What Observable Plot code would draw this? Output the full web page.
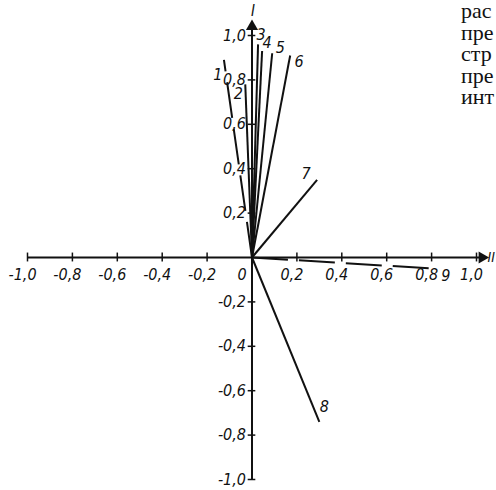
<!DOCTYPE html>
<html>
<head>
<meta charset="utf-8">
<script src="https://cdn.jsdelivr.net/npm/d3@7"></script>
<script src="https://cdn.jsdelivr.net/npm/@observablehq/plot@0.6"></script>
<style>
  html, body { margin: 0; padding: 0; background: #fff; overflow: hidden; width: 496px; height: 490px; }
  #wrap { position: relative; width: 496px; height: 490px; }
  #side { position: absolute; left: 461px; top: 0px; font-family: "Liberation Serif", "DejaVu Serif", serif; font-size: 22px; line-height: 21.5px; color: #111; white-space: pre; }
  svg text { font-family: "DejaVu Sans Condensed", "Liberation Sans Narrow", "DejaVu Sans", sans-serif; font-stretch: condensed; font-style: italic; }
</style>
</head>
<body>
<div id="wrap"><div id="side"></div></div>
<script>
// Vector data (axis I = vertical, axis II = horizontal)
const vectorIds = ["1", "2", "3", "4", "5", "6", "7", "8", "9"];
const vectorX = [-0.125, -0.03, 0.027, 0.045, 0.09, 0.17, 0.29, 0.30, 0.81];
const vectorY = [0.89, 0.78, 0.96, 0.93, 0.92, 0.91, 0.35, -0.74, -0.05];
const vectorDashed = [true, false, false, false, false, false, false, false, true];

// Tick values and labels
const xTicks = [-1.0, -0.8, -0.6, -0.4, -0.2, 0.2, 0.4, 0.6, 0.8, 1.0];
const xTickLabels = ["-1,0", "-0,8", "-0,6", "-0,4", "-0,2", "0,2", "0,4", "0,6", "0,8", "1,0"];
const yTicks = [1.0, 0.8, 0.6, 0.4, 0.2, -0.2, -0.4, -0.6, -0.8, -1.0];
const yTickLabels = ["1,0", "0,8", "0,6", "0,4", "0,2", "-0,2", "-0,4", "-0,6", "-0,8", "-1,0"];
const originLabel = ["0"];
const axisNames = ["I", "II"];

// Cropped book text on the right
const sideText = ["рас", "пре", "стр", "пре", "инт"];

// label offsets (px) for vector numbers
const labelDx = [-6, -7, 3, 5, 8, 9, -11, 5, 12];
const labelDy = [15, 10, -10, -8, -5, 6, -6, -15, 7];

const vectors = vectorIds.map((id, i) => ({id, x: vectorX[i], y: vectorY[i], dashed: vectorDashed[i], dx: labelDx[i], dy: labelDy[i]}));
const xt = xTicks.map((v, i) => ({v, label: xTickLabels[i]}));
const yt = yTicks.map((v, i) => ({v, label: yTickLabels[i]}));

const axisEndX = 1.045, axisEndY = 1.07;

const marks = [
  // axes
  Plot.ruleY([0], {x1: -1.0, x2: axisEndX - 0.02, stroke: "#111", strokeWidth: 2}),
  Plot.ruleX([0], {y1: -1.0, y2: axisEndY - 0.03, stroke: "#111", strokeWidth: 2}),
  Plot.dot([{x: axisEndX - 0.02, y: 0}], {x: "x", y: "y", symbol: "triangle", r: 4.5, fill: "#111", rotate: 90, stroke: null}),
  Plot.dot([{x: 0, y: axisEndY - 0.03}], {x: "x", y: "y", symbol: "triangle", r: 4.5, fill: "#111", stroke: null}),
  // ticks
  Plot.ruleX(xt, {x: "v", y1: -0.02, y2: 0.02, stroke: "#111", strokeWidth: 1.5}),
  Plot.ruleY(yt, {y: "v", x1: -0.017, x2: 0.017, stroke: "#111", strokeWidth: 1.5}),
  // tick labels
  Plot.text(xt, {x: "v", y: 0, text: "label", dy: 17, dx: -5, fontSize: 16, fill: "#111"}),
  Plot.text(yt, {x: 0, y: "v", text: "label", dx: -6, dy: 0, textAnchor: "end", fontSize: 16, fill: "#111"}),
  Plot.text(originLabel, {x: 0, y: 0, text: d => d, dx: -10, dy: 17, fontSize: 16, fill: "#111"}),
  // axis names
  Plot.text([axisNames[0]], {x: 0, y: axisEndY, text: d => d, dy: -9, dx: 1, fontSize: 15, fill: "#111"}),
  Plot.text([axisNames[1]], {x: axisEndX, y: 0, text: d => d, dx: 1, dy: 0, textAnchor: "start", fontSize: 14, fill: "#111"}),
  // vectors
  Plot.link(vectors.filter(d => !d.dashed), {x1: 0, y1: 0, x2: "x", y2: "y", stroke: "#111", strokeWidth: 2}),
  Plot.link(vectors.filter(d => d.dashed), {x1: 0, y1: 0, x2: "x", y2: "y", stroke: "#111", strokeWidth: 2, strokeDasharray: "36,11"}),
  // vector labels
  ...vectors.map(d => Plot.text([d], {x: "x", y: "y", text: "id", dx: d.dx, dy: d.dy, fontSize: 16, fill: "#111"}))
];

const chart = Plot.plot({
  width: 496,
  height: 490,
  margin: 0,
  x: {domain: [-1, 1], range: [27, 476], axis: null},
  y: {domain: [-1, 1], range: [479, 35], axis: null},
  marks
});
chart.style.position = "absolute";
chart.style.left = "0px";
chart.style.top = "0px";
document.getElementById("wrap").prepend(chart);
document.getElementById("side").textContent = sideText.join("\n");
</script>
</body>
</html>
